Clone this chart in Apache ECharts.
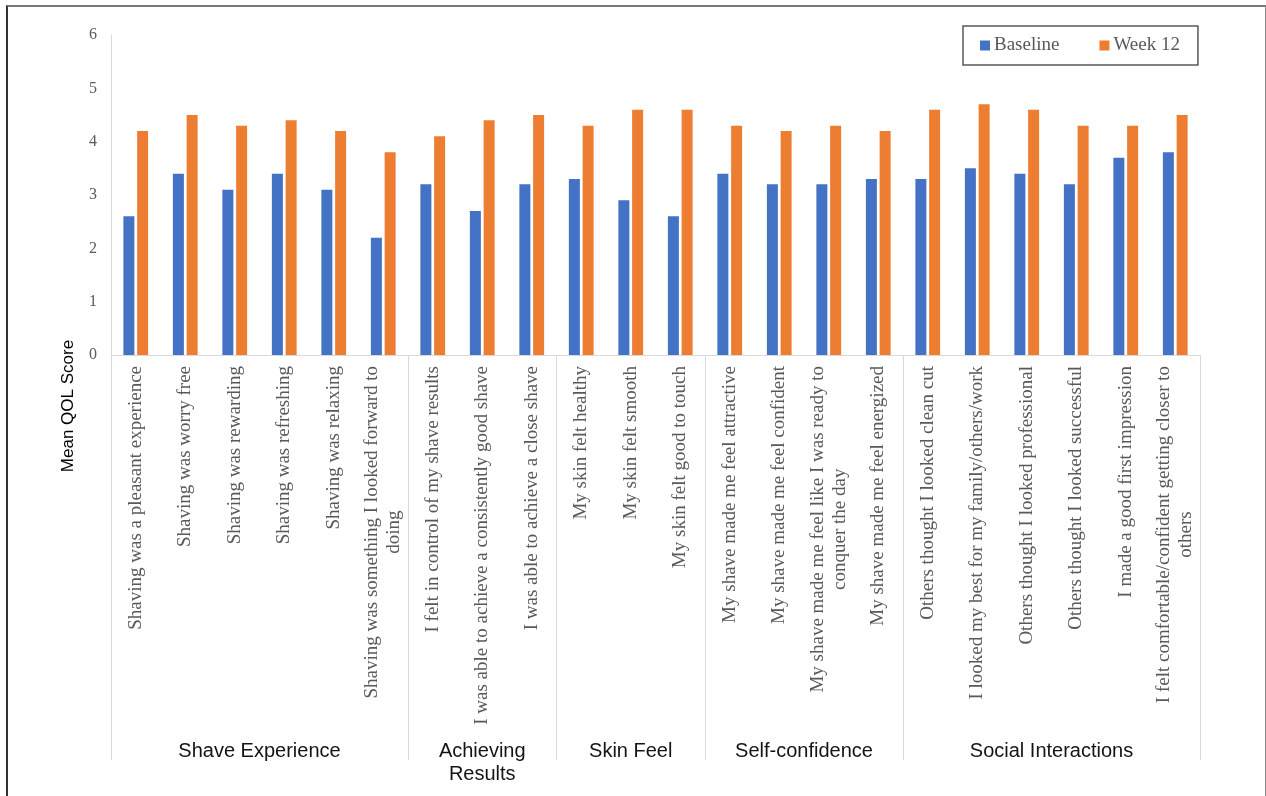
<!DOCTYPE html>
<html>
<head>
<meta charset="utf-8">
<script src="https://cdn.jsdelivr.net/npm/echarts@6/dist/echarts.min.js"></script>
<style>
  html, body { margin: 0; padding: 0; background: #fff; }
  #wrap { position: relative; width: 1266px; height: 796px; }
  #chart { position: absolute; left: 0; top: 0; width: 1266px; height: 796px; }
  #frame { position: absolute; left: 6px; top: 5px; width: 1257px; height: 800px;
           border-top: 2px solid #777; border-left: 2px solid #333; border-right: 2px solid #888;
           pointer-events: none; }
</style>
</head>
<body>
<div id="wrap"><div id="chart"></div><div id="frame"></div></div>
<script>
const categories = [
  'Shaving was a pleasant experience',
  'Shaving was worry free',
  'Shaving was rewarding',
  'Shaving was refreshing',
  'Shaving was relaxing',
  'Shaving was something I looked forward to\ndoing',
  'I felt in control of my shave results',
  'I was able to achieve a consistently good shave',
  'I was able to achieve a close shave',
  'My skin felt healthy',
  'My skin felt smooth',
  'My skin felt good to touch',
  'My shave made me feel attractive',
  'My shave made me feel confident',
  'My shave made me feel like I was ready to\nconquer the day',
  'My shave made me feel energized',
  'Others thought I looked clean cut',
  'I looked my best for my family/others/work',
  'Others thought I looked professional',
  'Others thought I looked successful',
  'I made a good first impression',
  'I felt comfortable/confident getting closer to\nothers'
];
const groupNames = ['Shave Experience', 'Achieving\nResults', 'Skin Feel', 'Self-confidence', 'Social Interactions'];
const groupSizes = [6, 3, 3, 4, 6];
const baseline = [2.6, 3.4, 3.1, 3.4, 3.1, 2.2, 3.2, 2.7, 3.2, 3.3, 2.9, 2.6, 3.4, 3.2, 3.2, 3.3, 3.3, 3.5, 3.4, 3.2, 3.7, 3.8];
const week12   = [4.2, 4.5, 4.3, 4.4, 4.2, 3.8, 4.1, 4.4, 4.5, 4.3, 4.6, 4.6, 4.3, 4.2, 4.3, 4.2, 4.6, 4.7, 4.6, 4.3, 4.3, 4.5];
const yTicks = [0, 1, 2, 3, 4, 5, 6];

const SERIF = "'Liberation Serif', 'Times New Roman', serif";
const SANS = "'Liberation Sans', Arial, sans-serif";

// group start indices
const groupStarts = [];
let acc = 0;
groupSizes.forEach(s => { groupStarts.push(acc); acc += s; });

const chart = echarts.init(document.getElementById('chart'), null, { renderer: 'canvas' });

const option = {
  animation: false,
  backgroundColor: '#fff',
  grid: { left: 111, right: 66, top: 35, bottom: 441, containLabel: false },
  legend: {
    data: ['Baseline', 'Week 12'],
    left: 963, top: 26,
    padding: [10, 18, 10, 17],
    itemGap: 40,
    itemWidth: 10, itemHeight: 10,
    icon: 'rect',
    borderColor: '#595959', borderWidth: 1.5,
    textStyle: { fontFamily: SERIF, fontSize: 19, color: '#595959', padding: [0, 0, 0, -1] }
  },
  xAxis: {
    type: 'category',
    data: categories,
    boundaryGap: true,
    axisLine: { show: true, lineStyle: { color: '#d9d9d9', width: 1 } },
    axisTick: {
      show: true,
      interval: function (index) { return groupStarts.indexOf(index) >= 0; },
      length: 405,
      lineStyle: { color: '#d9d9d9', width: 1 }
    },
    axisLabel: {
      interval: 0,
      rotate: 90,
      margin: 11,
      fontFamily: SERIF, fontSize: 19, color: '#595959', lineHeight: 22,
      formatter: function (v) {
        if (v.indexOf('\n') < 0) return v;
        return v.split('\n').map(l => '{c|' + l + '}').join('\n');
      },
      rich: { c: { align: 'center', fontFamily: SERIF, fontSize: 19, color: '#595959', lineHeight: 22 } }
    }
  },
  yAxis: {
    type: 'value',
    min: yTicks[0], max: yTicks[yTicks.length - 1], interval: 1,
    axisLine: { show: true, lineStyle: { color: '#d9d9d9', width: 1 } },
    axisTick: { show: false },
    splitLine: { show: false },
    axisLabel: { margin: 14, fontFamily: SERIF, fontSize: 16, color: '#595959' }
  },
  series: [
    {
      name: 'Baseline', type: 'bar', data: baseline,
      barWidth: 11, barGap: '25%',
      itemStyle: { color: '#4472C4' }
    },
    {
      name: 'Week 12', type: 'bar', data: week12,
      barWidth: 11, barGap: '25%',
      itemStyle: { color: '#ED7D31' }
    }
  ]
};
chart.setOption(option);

// Group labels positioned from the category axis scale
const graphics = [];
groupSizes.forEach((size, g) => {
  const s = groupStarts[g], e = s + size - 1;
  const x1 = chart.convertToPixel({ xAxisIndex: 0 }, s);
  const x2 = chart.convertToPixel({ xAxisIndex: 0 }, e);
  graphics.push({
    type: 'text',
    x: (x1 + x2) / 2, y: 740,
    style: {
      text: groupNames[g], fontFamily: SANS, fontSize: 20, fill: '#141414',
      align: 'center', verticalAlign: 'top', lineHeight: 23
    }
  });
});
graphics.push({
  type: 'text',
  x: 68, y: 406, rotation: Math.PI / 2,
  style: { text: 'Mean QOL Score', fontFamily: SANS, fontSize: 17, fill: '#000',
           align: 'center', verticalAlign: 'middle' }
});
chart.setOption({ graphic: graphics });
</script>
</body>
</html>
